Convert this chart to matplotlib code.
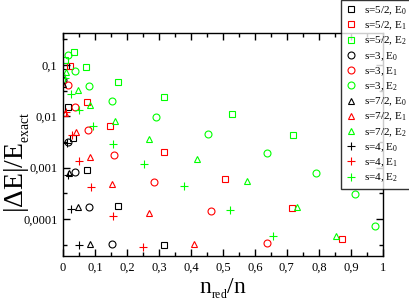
import matplotlib
matplotlib.use("Agg")
import matplotlib.pyplot as plt
from matplotlib.ticker import FixedLocator, FuncFormatter, NullFormatter

# s=5/2
x_52_E0 = [0.010, 0.016, 0.031, 0.075, 0.172, 0.316]
y_52_E0 = [0.098, 0.0152, 0.00377, 0.0009, 0.000178, 3.1e-5]
x_52_E1 = [0.022, 0.075, 0.147, 0.316, 0.506, 0.716, 0.872]
y_52_E1 = [0.0957, 0.019, 0.00647, 0.00201, 0.0006, 0.000163, 4.06e-5]
x_52_E2 = [0.006, 0.034, 0.072, 0.172, 0.316, 0.528, 0.719]
y_52_E2 = [0.125, 0.179, 0.0914, 0.0467, 0.0238, 0.0111, 0.00432]

# s=3
x_3_E0 = [0.001, 0.016, 0.0375, 0.081, 0.153]
y_3_E0 = [0.051, 0.00316, 0.00082, 0.000171, 3.24e-5]
x_3_E1 = [0.016, 0.0375, 0.078, 0.159, 0.284, 0.4625, 0.6375]
y_3_E1 = [0.041, 0.0152, 0.0054, 0.00176, 0.000524, 0.000143, 3.39e-5]
x_3_E2 = [0.016, 0.0375, 0.081, 0.153, 0.29, 0.453, 0.6375, 0.79, 0.9125, 0.975]
y_3_E2 = [0.157, 0.0764, 0.039, 0.0199, 0.0097, 0.00452, 0.00193, 0.000785, 0.000306, 7.3e-5]

# s=7/2
x_72_E0 = [0.001, 0.019, 0.047, 0.084]
y_72_E0 = [0.0427, 0.000785, 0.000171, 3.24e-5]
x_72_E1 = [0.006, 0.041, 0.084, 0.153, 0.269, 0.409]
y_72_E1 = [0.0116, 0.00494, 0.00161, 0.000479, 0.00013, 3.24e-5]
x_72_E2 = [0.008, 0.047, 0.084, 0.1625, 0.269, 0.419, 0.575, 0.731, 0.853]
y_72_E2 = [0.075, 0.0326, 0.0167, 0.0081, 0.00361, 0.00147, 0.000548, 0.000171, 4.6e-5]

# s=4
x_4_E0 = [0.0125, 0.016, 0.025, 0.05]
y_4_E0 = [0.00302, 0.000718, 0.000156, 3.1e-5]
x_4_E1 = [0.010, 0.028, 0.05, 0.0875, 0.156, 0.25]
y_4_E1 = [0.0121, 0.00432, 0.00135, 0.000418, 0.000114, 2.83e-5]
x_4_E2 = [0.006, 0.025, 0.05, 0.094, 0.156, 0.253, 0.378, 0.522, 0.656]
y_4_E2 = [0.055, 0.0272, 0.0133, 0.00647, 0.00289, 0.00117, 0.000438, 0.000149, 4.6e-5]

series = [
    (x_52_E0, y_52_E0, "s", "black", "s=5/2, E$_\\mathregular{0}$"),
    (x_52_E1, y_52_E1, "s", "red", "s=5/2, E$_\\mathregular{1}$"),
    (x_52_E2, y_52_E2, "s", "lime", "s=5/2, E$_\\mathregular{2}$"),
    (x_3_E0, y_3_E0, "o", "black", "s=3, E$_\\mathregular{0}$"),
    (x_3_E1, y_3_E1, "o", "red", "s=3, E$_\\mathregular{1}$"),
    (x_3_E2, y_3_E2, "o", "lime", "s=3, E$_\\mathregular{2}$"),
    (x_72_E0, y_72_E0, "^", "black", "s=7/2, E$_\\mathregular{0}$"),
    (x_72_E1, y_72_E1, "^", "red", "s=7/2, E$_\\mathregular{1}$"),
    (x_72_E2, y_72_E2, "^", "lime", "s=7/2, E$_\\mathregular{2}$"),
    (x_4_E0, y_4_E0, "+", "black", "s=4, E$_\\mathregular{0}$"),
    (x_4_E1, y_4_E1, "+", "red", "s=4, E$_\\mathregular{1}$"),
    (x_4_E2, y_4_E2, "+", "lime", "s=4, E$_\\mathregular{2}$"),
]

y_ticks = [1e-4, 1e-3, 1e-2, 1e-1]
y_tick_labels = ["0,0001", "0,001", "0,01", "0,1"]

plt.rcParams["font.family"] = ["Liberation Serif", "DejaVu Serif"]
plt.rcParams["mathtext.fontset"] = "custom"
plt.rcParams["mathtext.rm"] = "Liberation Serif"
plt.rcParams["mathtext.it"] = "Liberation Serif:italic"


def main():
    fig = plt.figure(figsize=(4.09, 3.04), dpi=100)
    ax = fig.add_axes([0.154, 0.158, 0.782, 0.733])

    sizes = {"s": 4.5, "o": 5.0, "^": 5.0, "+": 6.0}
    for xs, ys, m, c, lab in series:
        ax.plot(xs, ys, linestyle="none", marker=m, markersize=sizes[m],
                markerfacecolor="none", markeredgecolor=c, markeredgewidth=0.8,
                label=lab)

    ax.set_yscale("log")
    ax.set_xlim(0, 1)
    ax.set_ylim(1.9e-5, 0.42)

    ax.yaxis.set_major_locator(FixedLocator(y_ticks))
    ax.set_yticklabels(y_tick_labels)
    ax.yaxis.set_minor_locator(FixedLocator([10 ** (-k - 0.5) for k in range(0, 5)]))
    ax.yaxis.set_minor_formatter(NullFormatter())

    ax.xaxis.set_major_locator(FixedLocator([i / 10 for i in range(11)]))
    ax.xaxis.set_minor_locator(FixedLocator([i / 20 for i in range(1, 20, 2)]))
    ax.xaxis.set_major_formatter(FuncFormatter(
        lambda v, p: "0" if abs(v) < 1e-9 else ("1" if abs(v - 1) < 1e-9 else f"{v:.1f}".replace(".", ","))))

    ax.tick_params(which="both", direction="in", top=True, right=True,
                   labelsize=9, width=1, pad=4)
    ax.tick_params(which="major", length=5)
    ax.tick_params(which="minor", length=3)
    for sp in ax.spines.values():
        sp.set_linewidth(1)

    ax.set_xlabel(r"$\mathregular{n_{_{red}}/n}$", fontsize=17)
    ax.xaxis.set_label_coords(0.5, -0.09)
    ax.set_ylabel(r"$\mathregular{|\Delta E|/E_{_{exact}}}$", fontsize=20)
    ax.yaxis.set_label_coords(-0.098, 0.42)

    leg = fig.legend(loc="upper left", bbox_to_anchor=(0.834, 1.0), fontsize=8,
                     frameon=True, fancybox=False, edgecolor="black",
                     labelspacing=0.25, handletextpad=0.7, borderpad=0.4,
                     handlelength=1.0, borderaxespad=0)
    leg.get_frame().set_linewidth(1)

    fig.savefig("out.png", dpi=100)


if __name__ == "__main__":
    main()
